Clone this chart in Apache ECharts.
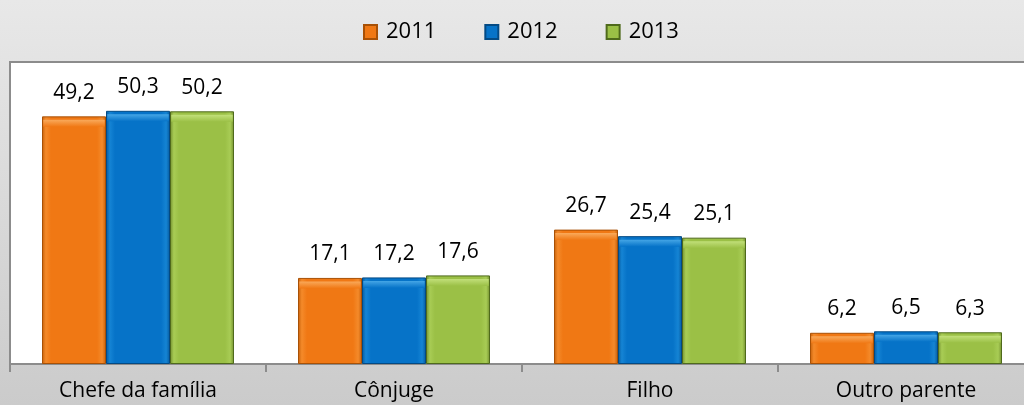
<!DOCTYPE html>
<html>
<head>
<meta charset="utf-8">
<script src="https://cdn.jsdelivr.net/npm/echarts@6/dist/echarts.min.js"></script>
<style>
  html, body { margin: 0; padding: 0; }
  #chart { width: 1024px; height: 405px; }
</style>
</head>
<body>
<div id="chart"></div>
<script>
  // categorias e valores (%)
  var categorias = ['Chefe da família', 'Cônjuge', 'Filho', 'Outro parente'];
  var anos = ['2011', '2012', '2013'];
  var v2011 = [49.2, 17.1, 26.7, 6.2];
  var v2012 = [50.3, 17.2, 25.4, 6.5];
  var v2013 = [50.2, 17.6, 25.1, 6.3];

  var fonte = '"Open Sans", "Liberation Sans", sans-serif';

  // cor "chanfrada": bordas escuras, meio liso
  function bisel(escuro, meio, claro) {
    return new echarts.graphic.LinearGradient(0, 0, 1, 0, [
      { offset: 0, color: escuro },
      { offset: 0.06, color: claro },
      { offset: 0.14, color: meio },
      { offset: 0.86, color: meio },
      { offset: 0.94, color: claro },
      { offset: 1, color: escuro }
    ]);
  }

  var cores = [
    { escuro: '#c65f08', meio: '#f07814', claro: '#f48a2a', topo: '#f9a95a', borda: '#a85106' },
    { escuro: '#055a9e', meio: '#0673c8', claro: '#1584d4', topo: '#45a6e6', borda: '#034a84' },
    { escuro: '#728f2e', meio: '#9bc046', claro: '#a8cc55', topo: '#c2e07a', borda: '#4f6a1c' }
  ];

  function serie(nome, dados, c) {
    return {
      name: nome,
      type: 'bar',
      data: dados,
      barGap: '0%',
      barCategoryGap: '25%',
      itemStyle: {
        color: bisel(c.escuro, c.meio, c.claro),
        borderColor: c.borda,
        borderWidth: 1
      },
      label: {
        show: true,
        position: 'top',
        distance: 13,
        color: '#000',
        fontSize: 21,
        fontFamily: fonte,
        formatter: function (p) { return p.value.toFixed(1).replace('.', ','); }
      }
    };
  }

  // faixa clara no topo de cada barra (efeito de chanfro)
  function topo(nome, dados, c) {
    return {
      name: nome,
      type: 'pictorialBar',
      data: dados,
      barGap: '0%',
      barCategoryGap: '25%',
      symbol: 'rect',
      symbolPosition: 'end',
      symbolSize: ['96%', 7],
      symbolOffset: [0, '50%'],
      z: 3,
      silent: true,
      itemStyle: {
        color: new echarts.graphic.LinearGradient(0, 0, 0, 1, [
          { offset: 0, color: c.topo },
          { offset: 1, color: c.meio }
        ])
      }
    };
  }

  var chart = echarts.init(document.getElementById('chart'));
  chart.setOption({
    animation: false,
    backgroundColor: new echarts.graphic.LinearGradient(0, 0, 0, 1, [
      { offset: 0, color: '#e8e8e8' },
      { offset: 1, color: '#cbcbcb' }
    ]),
    color: [cores[0].meio, cores[1].meio, cores[2].meio],
    legend: {
      data: anos,
      top: 16,
      left: 358,
      icon: 'rect',
      itemWidth: 13,
      itemHeight: 14,
      itemGap: 48,
      textStyle: { color: '#000', fontSize: 22, fontFamily: fonte, padding: [0, 0, 0, 4] }
    },
    grid: {
      left: 10,
      top: 62,
      width: 1024,
      bottom: 41,
      outerBoundsMode: 'none',
      show: true,
      backgroundColor: '#ffffff',
      borderColor: '#8c8c8c',
      borderWidth: 2
    },
    xAxis: {
      type: 'category',
      data: categorias,
      axisLine: { lineStyle: { color: '#8c8c8c', width: 2 } },
      axisTick: { show: true, length: 8, lineStyle: { color: '#8c8c8c', width: 2 } },
      axisLabel: { color: '#000', fontSize: 21, fontFamily: fonte, margin: 17 }
    },
    yAxis: {
      type: 'value',
      min: 0,
      max: 60,
      show: false,
      splitLine: { show: false }
    },
    series: [
      serie(anos[0], v2011, cores[0]),
      serie(anos[1], v2012, cores[1]),
      serie(anos[2], v2013, cores[2]),
      topo(anos[0], v2011, cores[0]),
      topo(anos[1], v2012, cores[1]),
      topo(anos[2], v2013, cores[2])
    ]
  });
</script>
</body>
</html>
